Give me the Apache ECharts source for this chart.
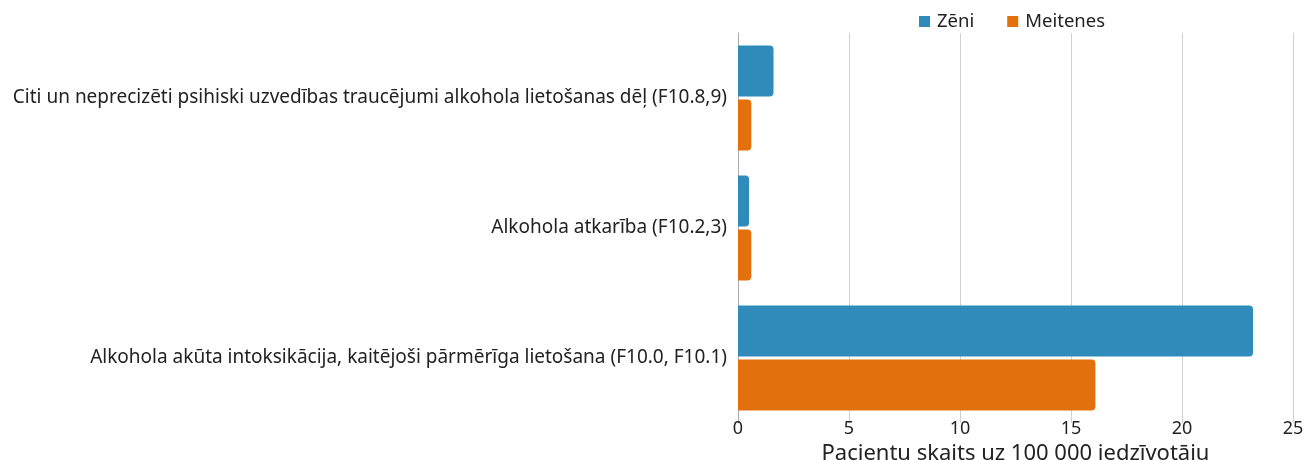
<!DOCTYPE html>
<html><head><meta charset="utf-8">
<script src="https://cdn.jsdelivr.net/npm/echarts@6/dist/echarts.min.js"></script>
<style>html,body{margin:0;padding:0;background:#fff}#c{width:1305px;height:460px}</style>
</head><body><div id="c"></div>
<script>
const categories = [
  "Alkohola akūta intoksikācija, kaitējoši pārmērīga lietošana (F10.0, F10.1)",
  "Alkohola atkarība (F10.2,3)",
  "Citi un neprecizēti psihiski uzvedības traucējumi alkohola lietošanas dēļ (F10.8,9)"
];
const zeni = [23.2, 0.5, 1.6];
const meitenes = [16.1, 0.6, 0.6];
const seriesNames = ["Zēni", "Meitenes"];
const xTicks = { min: 0, max: 25, interval: 5 };
const axisName = "Pacientu skaits uz 100 000 iedzīvotāju";

const FONT = "Noto Sans";
const chart = echarts.init(document.getElementById('c'), null, {renderer:'canvas'});
chart.setOption({
  animation: false,
  textStyle: { fontFamily: FONT },
  legend: {
    data: seriesNames,
    top: 7, left: 914,
    itemWidth: 11, itemHeight: 11, itemGap: 33,
    icon: 'rect',
    textStyle: { fontFamily: FONT, fontSize: 18.5, color: '#222', padding: [0,0,0,2] }
  },
  grid: { left: 738, right: 12, top: 33, bottom: 37, containLabel: false, outerBoundsMode: 'none' },
  xAxis: {
    type: 'value', min: xTicks.min, max: xTicks.max, interval: xTicks.interval,
    axisLine: { show: false }, axisTick: { show: false },
    splitLine: { lineStyle: { color: '#d0d0d0', width: 1 } },
    axisLabel: { fontFamily: FONT, fontSize: 18, color: '#222', margin: -3 },
    name: axisName, nameLocation: 'middle', nameGap: 16,
    nameTextStyle: { fontFamily: FONT, fontSize: 22, color: '#222' }
  },
  yAxis: {
    type: 'category', data: categories,
    axisLine: { show: true, lineStyle: { color: '#aaa' } },
    axisTick: { show: false },
    axisLabel: { fontFamily: FONT, fontSize: 19, color: '#222', margin: 11 }
  },
  series: [
    { name: seriesNames[0], type: 'bar', data: zeni, barWidth: 51, barGap: '6%',
      itemStyle: { color: '#2E8BBA', borderRadius: [0,4,4,0] } },
    { name: seriesNames[1], type: 'bar', data: meitenes, barWidth: 51, barGap: '6%',
      itemStyle: { color: '#E2700C', borderRadius: [0,4,4,0] } }
  ]
});
</script></body></html>
